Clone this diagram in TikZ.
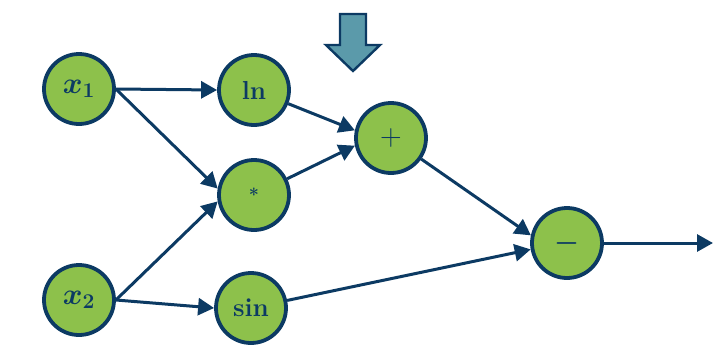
\RequirePackage{fix-cm}
\documentclass[tikz,border=0pt]{standalone}
\usepackage{amsmath,bm}
\usetikzlibrary{arrows.meta}
\definecolor{navy}{HTML}{0C3A63}
\definecolor{leaf}{HTML}{8DC14B}
\definecolor{teal}{HTML}{5B9AAA}
\begin{document}
\begin{tikzpicture}[x=1pt,y=-1pt,
  opnode/.style={circle,draw=navy,fill=leaf,line width=3.8pt,minimum size=70pt,inner sep=0pt,text=navy,font=\fontsize{26}{30}\selectfont},
  edge/.style={draw=navy,line width=3pt,-{Triangle[length=16pt,width=17pt]}}]
\useasboundingbox (0,0) rectangle (723,357);
\node[opnode,font=\fontsize{30}{34}\selectfont] (x1) at (79,89) {$\bm{x}_{\mathbf{1}}$};
\node[opnode,font=\fontsize{30}{34}\selectfont] (x2) at (79,300) {$\bm{x}_{\mathbf{2}}$};
\node[opnode] (ln) at (254,90) {\textbf{ln}};
\node[opnode] (mul) at (254,195) {\raisebox{-5pt}{\fontsize{18}{20}\selectfont\textbf{*}}};
\node[opnode] (sin) at (251,308) {\textbf{sin}};
\node[opnode,font=\fontsize{30}{34}\selectfont] (plus) at (391,138) {$+$};
\node[opnode,font=\fontsize{28}{32}\selectfont] (minus) at (567,243) {\raisebox{-2pt}{$\bm{-}$}};
\coordinate (out) at (713,243);
\draw[edge] (x1.east) -- (ln.west);
\draw[edge] (x1.east) -- (mul.170);
\draw[edge] (x2.east) -- (mul.190);
\draw[edge] (x2.east) -- (sin.west);
\draw[edge] (ln) -- (plus.168);
\draw[edge] (mul) -- (plus.192);
\draw[edge] (plus) -- (minus.168);
\draw[edge] (sin) -- (minus.190);
\draw[edge] (minus.east) -- (out);
\draw[navy,fill=teal,line width=2.4pt,line join=miter]
  (340,14) -- (366,14) -- (366,45) -- (380,45) -- (353,71) -- (326,45) -- (340,45) -- cycle;
\end{tikzpicture}
\end{document}
